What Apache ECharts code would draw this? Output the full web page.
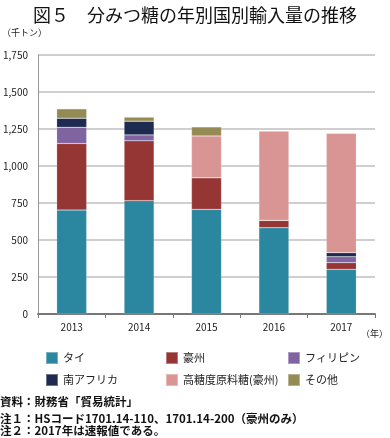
<!DOCTYPE html>
<html><head><meta charset="utf-8">
<script src="https://cdn.jsdelivr.net/npm/echarts@6/dist/echarts.min.js"></script>
<style>html,body{margin:0;padding:0;background:#fff}#c{width:390px;height:438px}</style>
</head><body><div id="c"></div>
<script>
const years = ['2013','2014','2015','2016','2017'];
const thai = [702, 766, 707, 583, 302];
const australia = [450, 404, 214, 50, 45];
const philippines = [110, 40, 0, 0, 40];
const southAfrica = [61, 93, 0, 0, 27];
const highSugar = [0, 0, 282, 603, 807];
const others = [63, 27, 61, 0, 0];
const yTicks = [0, 250, 500, 750, 1000, 1250, 1500, 1750];

const names = ['タイ','豪州','フィリピン','南アフリカ','高糖度原料糖(豪州)','その他'];
const colors = ['#2b87a0','#963634','#8064a2','#1f2a50','#d99594','#948a54'];
const datas = [thai, australia, philippines, southAfrica, highSugar, others];
const FONT = '"Noto Sans CJK JP", "Noto Sans", sans-serif';

const chart = echarts.init(document.getElementById('c'));
const legendPos = [[45,351],[165,351],[287,351],[45,373],[165,373],[287,373]];
chart.setOption({
  animation: false,
  color: colors,
  title: {
    text: '図５　分みつ糖の年別国別輸入量の推移',
    left: 'center', top: 1,
    textStyle: {fontFamily: FONT, fontSize: 18, fontWeight: 'normal', color: '#111'}
  },
  legend: legendPos.map((p, i) => ({
    data: [names[i]], left: p[0], top: p[1], padding: 0,
    itemWidth: 12, itemHeight: 12, itemGap: 5,
    icon: 'rect',
    textStyle: {fontFamily: FONT, fontSize: 11, color: '#222'}
  })),
  grid: {left: 37, right: 15, top: 55, bottom: 124},
  xAxis: {
    type: 'category', data: years,
    axisLine: {lineStyle: {color: '#777', width: 2}},
    axisTick: {show: true, alignWithLabel: false, lineStyle: {color: '#777'}, length: 4},
    axisLabel: {fontFamily: FONT, fontSize: 10, color: '#222', margin: 8}
  },
  yAxis: {
    type: 'value', min: 0, max: 1750, interval: 250,
    axisLine: {show: true, lineStyle: {color: '#999', width: 1}},
    axisTick: {show: false},
    splitLine: {lineStyle: {color: '#bfbfbf', width: 1.5}},
    axisLabel: {fontFamily: FONT, fontSize: 10, color: '#222', margin: 10,
      formatter: v => yTicks.includes(v) ? v.toLocaleString('en-US') : ''}
  },
  series: datas.map((d, i) => ({
    name: names[i], type: 'bar', stack: 'total', data: d,
    barWidth: 30,
    itemStyle: {color: colors[i], borderColor: 'rgba(255,255,255,0.35)', borderWidth: 0.5}
  })),
  graphic: [
    {type: 'text', left: 2, top: 28, style: {text: '（千トン）', fontFamily: FONT, fontSize: 9, fill: '#222'}},
    {type: 'text', right: 2, top: 329, style: {text: '（年）', fontFamily: FONT, fontSize: 9, fill: '#222'}},
    {type: 'text', left: 0, top: 396, style: {text: '資料：財務省「貿易統計」', fontFamily: FONT, fontSize: 11.5, fontWeight: 'bold', fill: '#111'}},
    {type: 'text', left: 0, top: 413, style: {text: '注１：HSコード1701.14-110、1701.14-200（豪州のみ）', fontFamily: FONT, fontSize: 11.5, fontWeight: 'bold', fill: '#111'}},
    {type: 'text', left: 0, top: 425, style: {text: '注２：2017年は速報値である。', fontFamily: FONT, fontSize: 11.5, fontWeight: 'bold', fill: '#111'}}
  ]
});
</script></body></html>
